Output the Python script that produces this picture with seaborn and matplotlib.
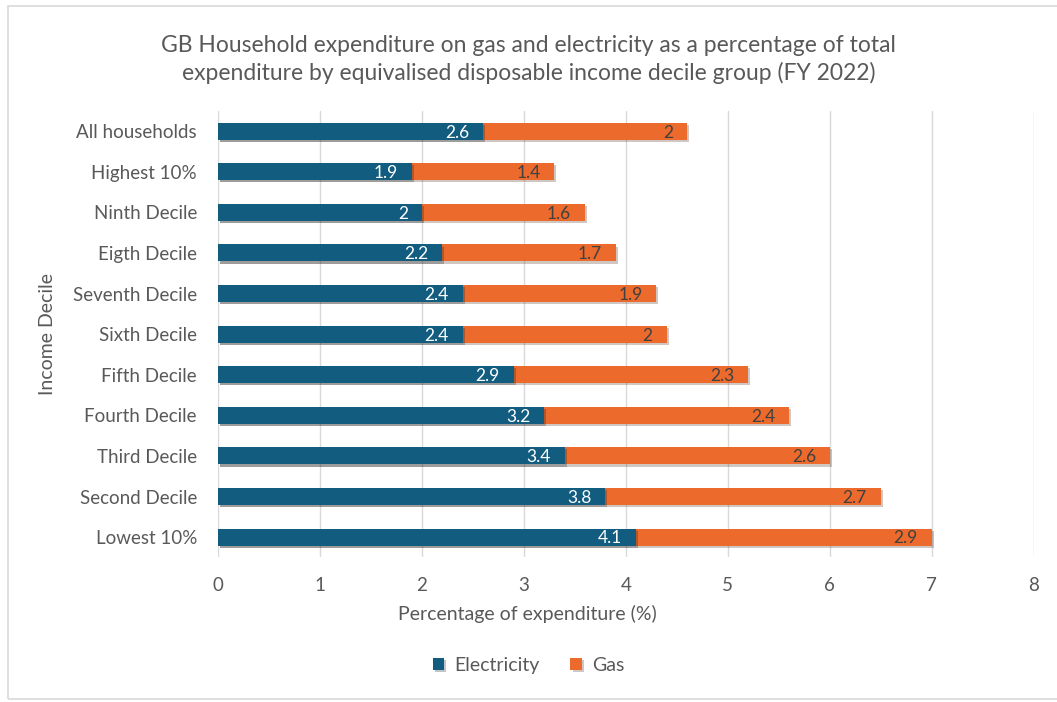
import pandas as pd
import matplotlib.pyplot as plt
import matplotlib.patheffects as pe
from matplotlib.patches import Rectangle
import seaborn as sns

categories = ['All households', 'Highest 10%', 'Ninth Decile', 'Eigth Decile',
              'Seventh Decile', 'Sixth Decile', 'Fifth Decile', 'Fourth Decile',
              'Third Decile', 'Second Decile', 'Lowest 10%']
electricity = [2.6, 1.9, 2.0, 2.2, 2.4, 2.4, 2.9, 3.2, 3.4, 3.8, 4.1]
gas = [2.0, 1.4, 1.6, 1.7, 1.9, 2.0, 2.3, 2.4, 2.6, 2.7, 2.9]

df = pd.DataFrame({'decile': categories, 'Electricity': electricity, 'Gas': gas})
df['total'] = df['Electricity'] + df['Gas']

blue = '#125c80'
orange = '#ec6a2b'
text_col = '#595959'

sns.set_style('white')
plt.rcParams['font.family'] = ['Lato', 'DejaVu Sans']

fig = plt.figure(figsize=(10.57, 7.02), dpi=100)
ax = fig.add_axes([0.206, 0.206, 0.772, 0.636])

shadow = [pe.SimplePatchShadow(offset=(1.5, -1.5), alpha=0.25), pe.Normal()]

# stacked bars: total in orange behind, electricity on top
sns.barplot(data=df, x='total', y='decile', color=orange, width=0.42,
            saturation=1, linewidth=0, ax=ax, label='Gas')
sns.barplot(data=df, x='Electricity', y='decile', color=blue, width=0.42,
            saturation=1, linewidth=0, ax=ax, label='Electricity')
for p in ax.patches:
    p.set_path_effects(shadow)

# labels at inside end of each segment
for i, row in df.iterrows():
    ax.annotate(f"{row['Electricity']:g}", (row['Electricity'], i), xytext=(-10, -1),
                textcoords='offset points', ha='right', va='center',
                color='white', fontsize=12.5)
    ax.annotate(f"{row['Gas']:g}", (row['total'], i), xytext=(-10, -1),
                textcoords='offset points', ha='right', va='center',
                color='#404040', fontsize=12.5)

ax.set_xlim(0, 8)
ax.set_xticks(range(0, 9))
ax.grid(axis='x', color='#d9d9d9', linewidth=1)
ax.set_axisbelow(True)
sns.despine(ax=ax, left=True, bottom=True)
ax.tick_params(axis='both', length=0, labelsize=13.5, colors=text_col)
ax.tick_params(axis='x', pad=14)
ax.tick_params(axis='y', pad=15)
# x title is centred on the whole chart, as Excel does
ax.set_xlabel('Percentage of expenditure (%)', fontsize=14, color=text_col,
              labelpad=8, x=0.38)
ax.set_ylabel('Income Decile', fontsize=14, color=text_col, labelpad=12)

fig.suptitle('GB Household expenditure on gas and electricity as a percentage of total\n'
             'expenditure by equivalised disposable income decile group (FY 2022)',
             x=0.5, y=0.95, fontsize=16.5, color=text_col, linespacing=1.3)

handles, labels = ax.get_legend_handles_labels()
order = [labels.index('Electricity'), labels.index('Gas')]
ax.legend([handles[k] for k in order], [labels[k] for k in order],
          loc='center', bbox_to_anchor=(0.5, 0.052), bbox_transform=fig.transFigure,
          ncol=2, frameon=False, fontsize=14, labelcolor=text_col,
          handlelength=0.6, handleheight=0.6, columnspacing=1.6, handletextpad=0.5)

fig.patches.append(Rectangle((0.008, 0.004), 1.1, 0.988, transform=fig.transFigure,
                             fill=False, edgecolor='#d9d9d9', linewidth=1.2))

fig.savefig('out.png', dpi=100)
